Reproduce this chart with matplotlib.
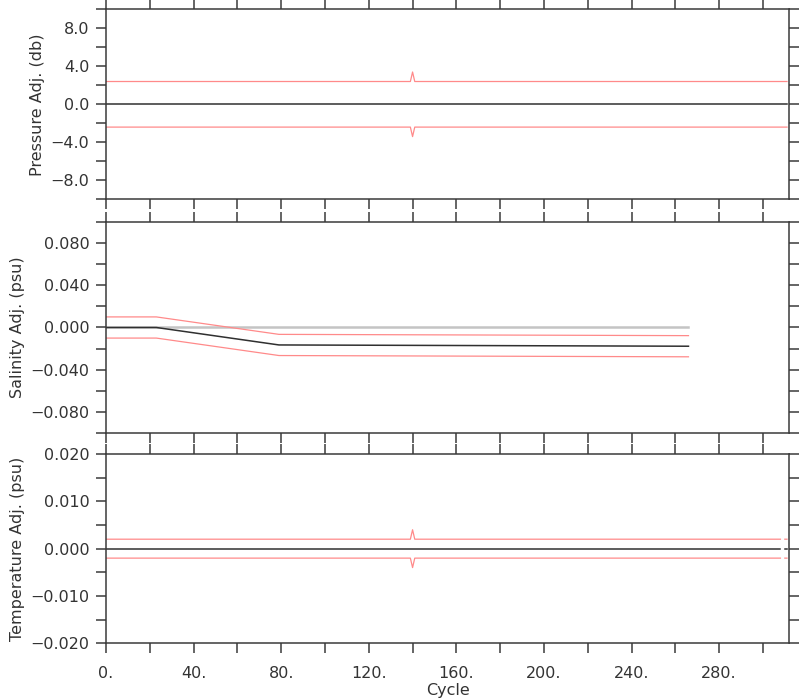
import numpy as np
import matplotlib
matplotlib.use('Agg')
import matplotlib.pyplot as plt
from matplotlib.ticker import MultipleLocator, FuncFormatter

# Pressure adjustment (db) with error band
pres_cycle = [0, 139, 140, 141, 311]
pres_adj = [0.0, 0.0, 0.0, 0.0, 0.0]
pres_err = [2.4, 2.4, 3.4, 2.4, 2.4]

# Salinity adjustment (psu) with error band
psal_cycle = [0, 23, 79, 266]
psal_adj = [0.0, 0.0, -0.0165, -0.0177]
psal_err = [0.01, 0.01, 0.01, 0.01]

# Temperature adjustment with error band (one cycle missing near the end)
temp_cycle = [0, 139, 140, 141, 308, 309, 310, 311]
temp_adj = [0.0, 0.0, 0.0, 0.0, 0.0, np.nan, 0.0, 0.0]
temp_err = [0.002, 0.002, 0.004, 0.002, 0.002, np.nan, 0.002, 0.002]

x_max = 312
red = '#ff8a8a'
dark = '#303030'
spine_col = '#3a3a3a'
fs = 11.5

plt.rcParams['font.family'] = 'DejaVu Sans'
plt.rcParams['font.size'] = fs

fig = plt.figure(figsize=(8, 7), dpi=100)
ax1 = fig.add_axes([0.1325, 0.7153, 0.854, 0.2714])
ax2 = fig.add_axes([0.1325, 0.3810, 0.854, 0.3023])
ax3 = fig.add_axes([0.1325, 0.0810, 0.854, 0.2704])


def fmt_y(dec):
    return FuncFormatter(lambda v, p: f"{v:.{dec}f}".replace('-', '\u2212'))


def style(ax, ylim, major, minor, dec, ylabel):
    ax.set_xlim(0, x_max)
    ax.set_ylim(*ylim)
    ax.xaxis.set_major_locator(MultipleLocator(40))
    ax.xaxis.set_minor_locator(MultipleLocator(20))
    ax.yaxis.set_major_locator(MultipleLocator(major))
    ax.yaxis.set_minor_locator(MultipleLocator(minor))
    ax.yaxis.set_major_formatter(fmt_y(dec))
    ax.xaxis.set_major_formatter(FuncFormatter(lambda v, p: f"{v:.0f}."))
    ax.tick_params(which='both', direction='out', length=7, width=1.1,
                   color=spine_col, top=True, right=True, labelcolor='#333333',
                   labelsize=fs, pad=5)
    ax.tick_params(axis='x', which='major', pad=9)
    for s in ax.spines.values():
        s.set_color(spine_col)
        s.set_linewidth(1.1)
    ax.set_ylabel(ylabel, color='#333333', fontsize=fs, labelpad=4)


# Pressure
p_adj = np.array(pres_adj)
p_err = np.array(pres_err)
ax1.plot(pres_cycle, p_adj + p_err, color=red, lw=0.9)
ax1.plot(pres_cycle, p_adj - p_err, color=red, lw=0.9)
ax1.plot(pres_cycle, p_adj, color=dark, lw=1.1)
style(ax1, (-10, 10), 4, 2, 1, 'Pressure Adj. (db)')
ax1.tick_params(labelbottom=False)

# Salinity
s_adj = np.array(psal_adj)
s_err = np.array(psal_err)
ax2.plot([psal_cycle[0], psal_cycle[-1]], [0, 0], color='#c4c4c4', lw=1.8)
ax2.plot(psal_cycle, s_adj + s_err, color=red, lw=0.9)
ax2.plot(psal_cycle, s_adj - s_err, color=red, lw=0.9)
ax2.plot(psal_cycle, s_adj, color=dark, lw=1.1)
style(ax2, (-0.1, 0.1), 0.04, 0.02, 3, 'Salinity Adj. (psu)')
ax2.tick_params(labelbottom=False)

# Temperature
t_adj = np.array(temp_adj)
t_err = np.array(temp_err)
ax3.plot(temp_cycle, t_adj + t_err, color=red, lw=0.9)
ax3.plot(temp_cycle, t_adj - t_err, color=red, lw=0.9)
ax3.plot(temp_cycle, t_adj, color=dark, lw=1.1)
style(ax3, (-0.02, 0.02), 0.01, 0.005, 3, 'Temperature Adj. (psu)')
ax3.set_xlabel('Cycle', color='#333333', fontsize=fs, labelpad=2)

fig.savefig('out.png', dpi=100)
